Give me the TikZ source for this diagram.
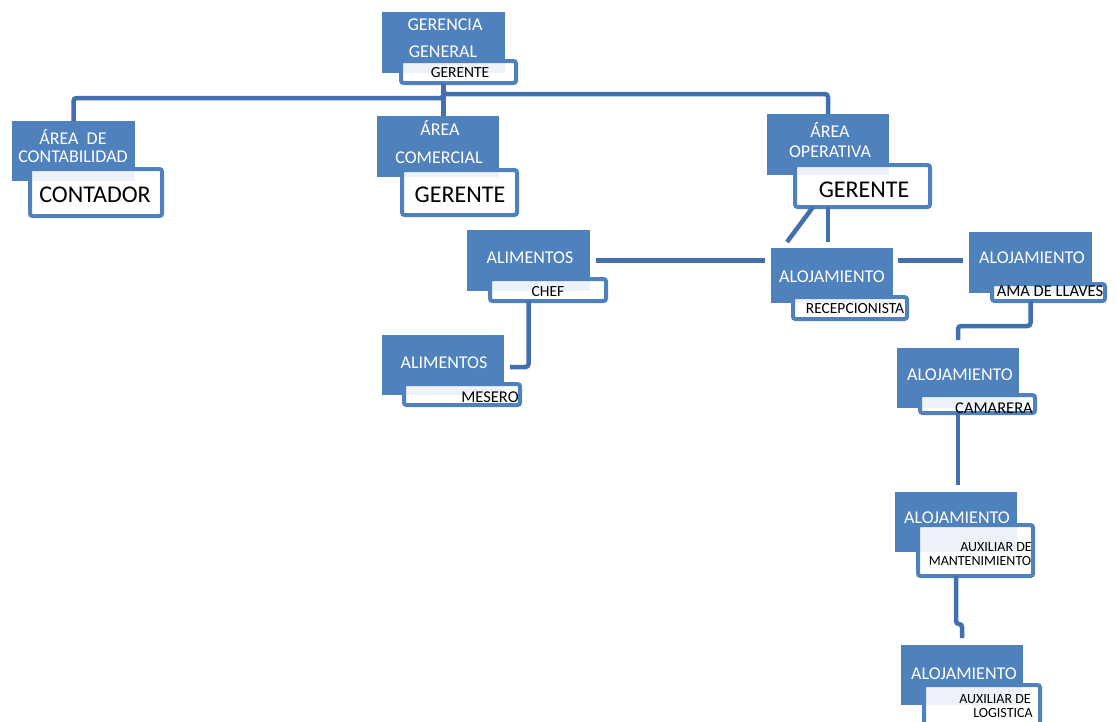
\documentclass[tikz,border=0pt]{standalone}
\usepackage{fontspec}
\setmainfont{Carlito}
\definecolor{boxblue}{HTML}{4F81BD}
\definecolor{linkblue}{HTML}{4270AE}
\tikzset{
 bbox/.style={fill=boxblue, draw=none, inner sep=0pt, outer sep=0pt},
 wbox/.style={draw=boxblue, line width=4pt, rounded corners=2.5pt, fill=white, fill opacity=0.9, inner sep=0pt, outer sep=0pt},
 conn/.style={draw=linkblue, line width=4.5pt, rounded corners=3pt},
 ttl/.style={text=white, font=\fontsize{18}{21}\selectfont, inner sep=0pt, anchor=base},
 sublbl/.style={text=black, font=\fontsize{15.5}{18}\selectfont, inner sep=0pt, anchor=base},
 auxlbl/.style={text=black, font=\fontsize{14}{16}\selectfont, inner sep=0pt, anchor=base},
 widelbl/.style={text=black, font=\fontsize{16.5}{19}\selectfont, inner sep=0pt, anchor=base},
 biglbl/.style={text=black, font=\fontsize{24}{28}\selectfont, inner sep=0pt, anchor=base},
}
\newcommand\obox[9]{%
 \node[bbox, minimum width={(#4)-(#2)}, minimum height={(#5)-(#3)}] (#1) at ({((#2)+(#4))/2},{((#3)+(#5))/2}) {};
 \node[wbox, minimum width={(#8)-(#6)-4}, minimum height={(#9)-(#7)-4}] (#1s) at ({((#6)+(#8))/2},{((#7)+(#9))/2}) {};}
\begin{document}
\begin{tikzpicture}[x=1pt,y=-1pt]
\useasboundingbox (0,0) rectangle (1117,721);
\clip (0,0) rectangle (1117,721);
% boxes
\obox{gg}{382}{12}{505}{73}{399}{59}{518}{85}
\obox{contab}{12}{121}{135}{181}{28}{167}{164}{218}
\obox{com}{377}{116}{499}{177}{400}{168}{519}{217}
\obox{oper}{767}{114}{889}{175}{793}{163}{932}{209}
\obox{recep}{771}{248}{893}{303}{791}{295}{909}{321}
\obox{chef}{467}{230}{590}{291}{488}{277}{608}{303}
\obox{mes}{382}{335}{504}{395}{402}{382}{522}{407}
\obox{ama}{969}{232}{1092}{293}{990}{282}{1107}{303}
\obox{cam}{897}{348}{1019}{408}{918}{393}{1037}{415}
\obox{maint}{895}{492}{1017}{552}{916}{523}{1035}{578}
\obox{log}{901}{645}{1023}{705}{922}{683}{1042}{745}
% texts
\node[ttl] (gg1) at (445,30) {GERENCIA};
\node[ttl] (gg2) at (443,57) {GENERAL};
\node[sublbl] (gg3) at (460,77) {GERENTE};
\node[ttl] (ct1) at (73,144) {ÁREA\ \ DE};
\node[ttl] (ct2) at (73,162) {CONTABILIDAD};
\node[biglbl] (ct3) at (95,202) {CONTADOR};
\node[ttl] (cm1) at (440,135) {ÁREA};
\node[ttl] (cm2) at (439,163) {COMERCIAL};
\node[biglbl] (cm3) at (460,202) {GERENTE};
\node[ttl] (op1) at (830,137) {ÁREA};
\node[ttl] (op2) at (830,157) {OPERATIVA};
\node[biglbl] (op3) at (864,197) {GERENTE};
\node[ttl] (rc1) at (832,282) {ALOJAMIENTO};
\node[sublbl] (rc2) at (855,313) {RECEPCIONISTA};
\node[ttl] (ch1) at (530,263) {ALIMENTOS};
\node[sublbl] (ch2) at (548,296) {CHEF};
\node[ttl] (ms1) at (444,368) {ALIMENTOS};
\node[widelbl] (ms2) at (490,402) {MESERO};
\node[ttl] (am1) at (1032,263) {ALOJAMIENTO};
\node[widelbl] (am2) at (1050,296) {AMA DE LLAVES};
\node[ttl] (ca1) at (960,380) {ALOJAMIENTO};
\node[widelbl] (ca2) at (994,413) {CAMARERA};
\node[ttl] (mt1) at (957,523) {ALOJAMIENTO};
\node[auxlbl] (mt2) at (996,551) {AUXILIAR DE};
\node[auxlbl] (mt3) at (980,565) {MANTENIMIENTO};
\node[ttl] (lg1) at (964,679) {ALOJAMIENTO};
\node[auxlbl] (lg2) at (995,703) {AUXILIAR DE};
\node[auxlbl] (lg3) at (1003,717) {LOGISTICA};
% connectors
\draw[conn] (gg.south |- ggs.south) -- ++(0,15) -| (contab.north);
\draw[conn] (gg.south |- ggs.south) -- ++(0,11) -| (oper.north);
\draw[conn] (gg.south |- ggs.south) -- ++(0,15) -- (com.north -| gg.south);
\draw[conn, rounded corners=0pt] (oper.south |- opers.south) -- ([yshift=6pt]recep.north -| oper.south);
\draw[conn, rounded corners=0pt] ([xshift=-15pt]oper.south |- opers.south) -- ([xshift=-45pt,yshift=6pt]recep.north);
\draw[conn] ([xshift=6pt]chef.east) -- ([xshift=-6pt]recep.west |- chef.east);
\draw[conn] ([xshift=5pt]recep.east |- chef.east) -- ([xshift=-6pt]ama.west |- chef.east);
\draw[conn] (chef.south |- chefs.south) |- ([xshift=6pt,yshift=-2pt]mes.east);
\draw[conn] (ama.south |- amas.south) -- ++(0,25) -| ([yshift=8pt]cam.north);
\draw[conn] (cam.south |- cams.south) -- ([yshift=7pt]maint.north -| cam.south);
\draw[conn] (maint.south |- maints.south) -- ++(0,48) -| ([yshift=7pt]log.north);
\end{tikzpicture}
\end{document}
